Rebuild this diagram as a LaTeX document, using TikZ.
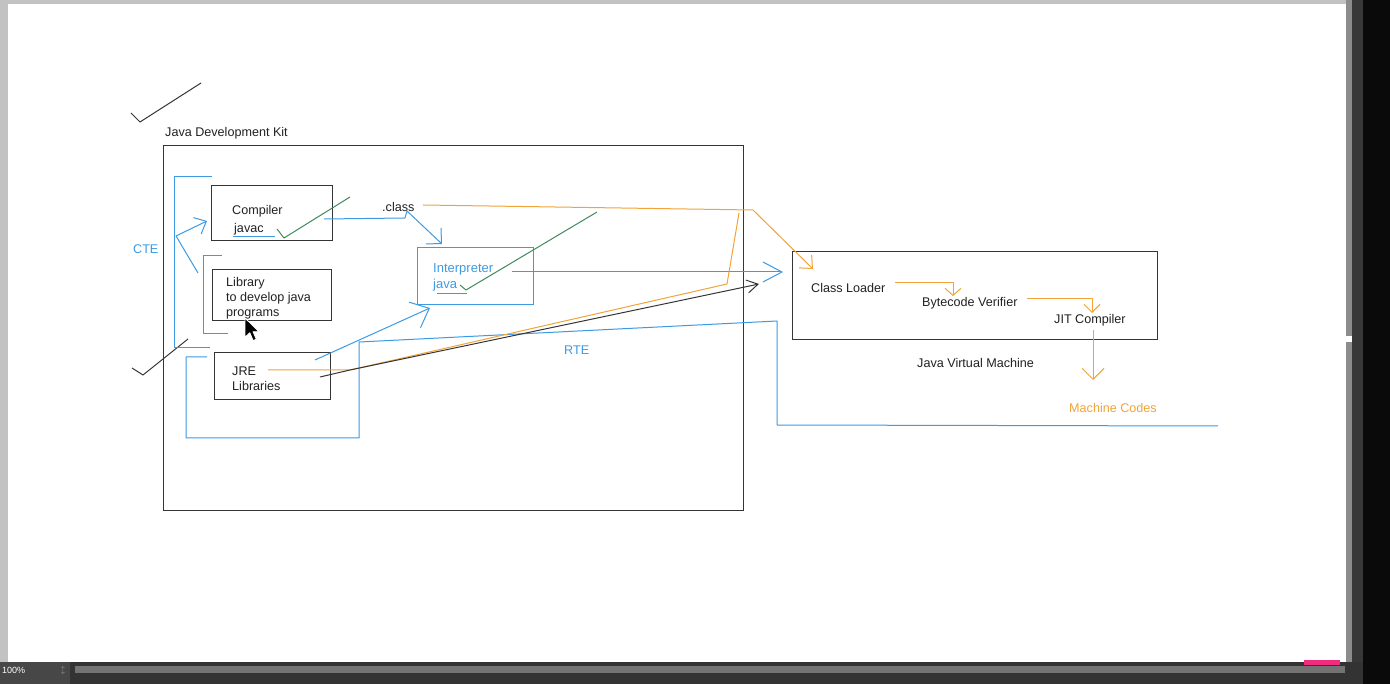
\documentclass[tikz,border=0pt]{standalone}
\usepackage{fontspec}
\setmainfont{Liberation Sans}
\usetikzlibrary{arrows.meta}
\definecolor{pen}{HTML}{353535}
\definecolor{ink}{HTML}{222222}
\definecolor{skyb}{HTML}{3D9BE3}
\definecolor{amber}{HTML}{F2A43A}
\definecolor{leaf}{HTML}{3E8A5C}
\begin{document}
\begin{tikzpicture}[x=1pt,y=-1pt,
  box/.style={draw=pen, line width=1.1pt, inner sep=0pt, anchor=north west},
  lbl/.style={anchor=west, inner sep=0pt, align=left, text=ink,
    font=\fontsize{12.6}{15}\selectfont, yshift=-1.5pt},
  bluetext/.style={lbl, text=skyb},
  ambertext/.style={lbl, text=amber},
  blueline/.style={draw=skyb, line width=1pt, line join=round},
  amberline/.style={draw=amber, line width=1pt, line join=round},
  inkline/.style={draw=pen, line width=1pt, line join=round},
  tickmark/.style={draw=pen, line width=1pt, line join=round},
  greentick/.style={draw=leaf, line width=1pt, line join=round},
  barb/.style n args={2}{-{Straight Barb[length=#1pt,width=#2pt]}}
]
% window chrome
\fill[black!24] (0,0) rectangle (1390,684);
\fill[white] (8,4) rectangle (1346,662);
\fill[black!45] (1346,0) rectangle (1352,662);
\fill[black!78] (1352,0) rectangle (1363,684);
\fill[black!96] (1363,0) rectangle (1390,684);
\fill[black!80] (0,662) rectangle (1363,684);
\fill[black!72] (0,662) rectangle (70,684);
\fill[black!55] (75,666) rectangle (1345,673);
\fill[white] (1346,336) rectangle (1352,342);
\fill[magenta!70!red!85!white] (1304,660) rectangle (1340,665);
\node[anchor=west, inner sep=0pt, text=white, font=\fontsize{9}{10}\selectfont] (zoomlevel) at (2,670) {100\%};
\node[anchor=center, inner sep=0pt, text=black!40, font=\fontsize{8}{8}\selectfont] (zoomstep) at (63,670) {$\updownarrow$};

% Java Development Kit
\node[box, minimum width=580pt, minimum height=365pt] (jdk) at (163,145) {};
\node[lbl] (jdkt) at (165,132) {Java Development Kit};

\node[box, minimum width=121pt, minimum height=55pt] (compiler) at (211,185) {};
\node[lbl] (compt) at (232,210) {Compiler};
\node[lbl] (javact) at (234,228) {javac};

\node[box, minimum width=119pt, minimum height=51pt] (library) at (212,269) {};
\node[lbl] (libt) at (226,297) {Library\\to develop java\\programs};

\node[box, minimum width=116pt, minimum height=47pt] (jre) at (214,352) {};
\node[lbl] (jret) at (232,377.5) {JRE\\Libraries};

\node[box, draw=skyb, line width=1pt, minimum width=116pt, minimum height=57pt] (interp) at (417,247) {};
\node[bluetext, font=\fontsize{13}{16}\selectfont] (interpt) at (433,276) {Interpreter\\java};

\node[lbl] (classt) at (382,205) {.class};
\node[bluetext] (cte) at (133,248) {CTE};
\node[bluetext] (rte) at (564,349) {RTE};

% Java Virtual Machine
\node[box, minimum width=365pt, minimum height=88pt] (jvm) at (792,251) {};
\node[lbl] (loader) at (811,286) {Class Loader};
\node[lbl] (verifier) at (922,302) {Bytecode Verifier};
\node[lbl] (jit) at (1054,319) {JIT Compiler};
\node[lbl] (jvmt) at (917,361) {Java Virtual Machine};
\node[ambertext] (mcode) at (1069,406) {Machine Codes};

% tick marks
\draw[tickmark] (131,113) -- (140,122) -- (201,83);
\draw[tickmark] (132,368) -- (143,375) -- (188,339);
\draw[greentick] (277,229) -- (284,238) -- (350,197);
\draw[greentick] (460,285) -- (466,290) -- (597,212);

% underlines
\draw[blueline] (233,237) -- (275,237);
\draw[blueline] (437,294) -- (467,294);

% compile time bracket
\coordinate (cteTop) at (212,177);
\coordinate (cteBot) at (210,348);
\coordinate (cteFork) at (176,236);
\coordinate (toCompiler) at (207,221);
\coordinate (toLibrary) at (198,273);
\draw[blueline] (cteTop) -- (174,177) -- (174,348) -- (cteBot);
\draw[blueline, barb={10}{18}] (cteFork) -- (toCompiler);
\draw[blueline] (cteFork) -- (toLibrary);
\draw[blueline] (222,256) -- (203,256) -- (203,334) -- (228,334);

% compiler -> .class -> interpreter
\coordinate (compOut) at (324,219);
\coordinate (interpIn) at (442,244);
\draw[blueline, barb={11}{22}] (compOut) -- (405,218) -- (407,211) -- (interpIn);

% JRE -> interpreter
\coordinate (jreOut) at (315,360);
\coordinate (interpLow) at (430,308);
\draw[blueline, barb={16}{28}] (jreOut) -- (interpLow);

% interpreter -> JVM
\coordinate (interpOut) at (512,272);
\coordinate (jvmIn) at (783,272);
\draw[blueline, barb={19}{20}] (interpOut) -- (jvmIn);

% run time loop
\coordinate (rteStart) at (207,357);
\coordinate (rteEnd) at (1218,426);
\draw[blueline] (rteStart) -- (186,357) -- (186,438) -- (359,438) -- (359,342)
  -- (777,321) -- (777,425) -- (rteEnd);

% .class -> class loader
\coordinate (classOut) at (423,205);
\coordinate (loaderIn) at (813,269);
\draw[amberline, barb={10}{18}] (classOut) -- (753,210) -- (loaderIn);

% JRE libraries strokes
\coordinate (jreAmber) at (268,370);
\coordinate (amberTop) at (739,213);
\draw[amberline] (jreAmber) -- (350,370) -- (727,284) -- (amberTop);
\coordinate (jreInk) at (320,377);
\coordinate (jvmInk) at (759,284);
\draw[inkline, barb={11}{13}] (jreInk) -- (350,370) -- (jvmInk);

% inside the JVM
\coordinate (loaderOut) at (895,283);
\coordinate (verifierIn) at (953,296);
\draw[amberline, barb={7}{16}] (loaderOut) -- (953,283) -- (verifierIn);
\coordinate (verifierOut) at (1027,299);
\coordinate (jitIn) at (1092,313);
\draw[amberline, barb={8}{16}] (verifierOut) -- (1092,299) -- (jitIn);
\coordinate (jitOut) at (1093,330);
\coordinate (mcodeIn) at (1093,380);
\draw[amberline, barb={11}{22}] (jitOut) -- (mcodeIn);

% mouse pointer
\draw[white, line width=0.8pt, fill=black, line join=round, shift={(245,318)}, scale=1.2]
  (0,0) -- (0,16) -- (4,12.3) -- (6.8,18.8) -- (9.4,17.7) -- (6.7,11.4) -- (11.6,11.4) -- cycle;
\end{tikzpicture}
\end{document}
